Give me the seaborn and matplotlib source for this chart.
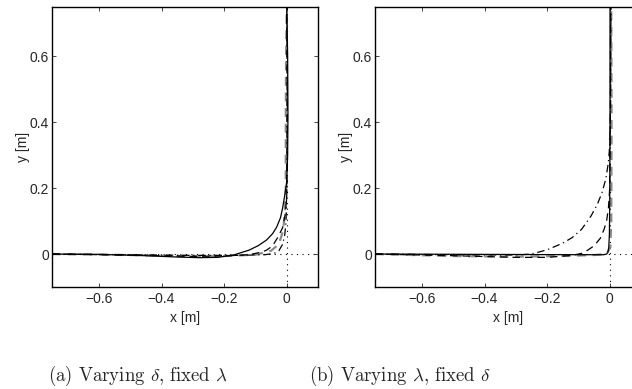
import matplotlib
matplotlib.use("Agg")
import matplotlib.pyplot as plt
import seaborn as sns
import numpy as np
import pandas as pd

# ---------------- DATA ----------------

# panel (a): varying delta, fixed lambda
a_solid_x = [-0.75, -0.6, -0.45, -0.35, -0.28, -0.22, -0.17, -0.12, -0.09, -0.064, -0.045,
             -0.032, -0.02, -0.013, -0.006, 0.0, 0.003, 0.004, 0.003, 0.0]
a_solid_y = [0.0, -0.001, -0.005, -0.009, -0.011, -0.01, -0.003, 0.012, 0.026, 0.043, 0.062,
             0.082, 0.11, 0.14, 0.18, 0.22, 0.3, 0.42, 0.6, 0.75]

a_dash_x = [-0.75, -0.5, -0.3, -0.2, -0.12, -0.08, -0.064, -0.045, -0.029, -0.013, -0.005,
            0.0, 0.002, 0.002, 0.0]
a_dash_y = [0.0, -0.003, -0.007, -0.006, -0.002, 0.006, 0.012, 0.025, 0.05, 0.08, 0.12,
            0.17, 0.3, 0.5, 0.75]

a_dashdot_x = [-0.75, -0.5, -0.3, -0.15, -0.07, -0.04, -0.025, -0.013, -0.006, -0.002,
               0.0, 0.001, 0.0]
a_dashdot_y = [0.0, -0.002, -0.004, -0.004, -0.002, 0.002, 0.01, 0.03, 0.06, 0.1,
               0.2, 0.5, 0.75]

a_gray_x = [-0.75, -0.5, -0.35, -0.2, -0.1, -0.05, -0.025, -0.012, -0.006, -0.003,
            -0.003, -0.002, 0.0]
a_gray_y = [0.0, -0.003, -0.006, -0.006, -0.002, 0.01, 0.03, 0.07, 0.12, 0.2,
            0.4, 0.6, 0.75]

# panel (b): varying lambda, fixed delta
b_solid_x = [-0.75, -0.4, -0.1, -0.02, -0.01, -0.006, -0.003, -0.001, 0.0, 0.001, 0.001]
b_solid_y = [0.0, -0.001, -0.002, -0.002, 0.0, 0.005, 0.02, 0.06, 0.15, 0.4, 0.75]

b_dash_x = [-0.75, -0.5, -0.3, -0.2, -0.12, -0.09, -0.07, -0.05, -0.03, -0.018, -0.01,
            -0.004, 0.0, 0.002, 0.003]
b_dash_y = [0.0, -0.005, -0.01, -0.01, -0.004, 0.002, 0.012, 0.025, 0.048, 0.075, 0.1,
            0.14, 0.2, 0.4, 0.75]

b_dashdot_x = [-0.75, -0.5, -0.3, -0.25, -0.2, -0.15, -0.12, -0.09, -0.06, -0.04, -0.025,
               -0.012, -0.004, 0.0, 0.003, 0.004]
b_dashdot_y = [0.0, -0.002, -0.003, 0.0, 0.013, 0.033, 0.05, 0.075, 0.115, 0.15, 0.185,
               0.23, 0.28, 0.33, 0.45, 0.75]

b_gray_x = [-0.75, -0.5, -0.3, -0.15, -0.05, -0.01, 0.002, 0.005, 0.006, 0.005]
b_gray_y = [0.0, -0.006, -0.008, -0.006, -0.003, 0.0, 0.02, 0.1, 0.4, 0.75]

x_ticks = [-0.6, -0.4, -0.2, 0]
y_ticks = [0, 0.2, 0.4, 0.6]
x_ticklabels = ["\u22120.6", "\u22120.4", "\u22120.2", "0"]
y_ticklabels = ["0", "0.2", "0.4", "0.6"]
captions = [r"(a) Varying $\delta$, fixed $\lambda$", r"(b) Varying $\lambda$, fixed $\delta$"]

# ---------------- STYLE ----------------

sns.set_style("ticks")
plt.rcParams["font.family"] = ["Liberation Sans", "DejaVu Sans"]
plt.rcParams["mathtext.fontset"] = "cm"

fig = plt.figure(figsize=(6.32, 3.89), dpi=100)
ax_a = fig.add_axes([52 / 632, 1 - 287 / 389, 266 / 632, 280 / 389])
ax_b = fig.add_axes([375 / 632, 1 - 287 / 389, 266 / 632, 280 / 389])

panels = [
    (ax_a, [(a_solid_x, a_solid_y), (a_dash_x, a_dash_y), (a_dashdot_x, a_dashdot_y), (a_gray_x, a_gray_y)]),
    (ax_b, [(b_solid_x, b_solid_y), (b_dash_x, b_dash_y), (b_dashdot_x, b_dashdot_y), (b_gray_x, b_gray_y)]),
]

styles = [
    dict(color="black", linestyle="-", linewidth=0.9),
    dict(color="black", linestyle=(0, (6, 4)), linewidth=0.9),
    dict(color="black", linestyle=(0, (6, 3, 1, 3)), linewidth=0.9),
    dict(color="#8a8a8a", linestyle=(0, (4, 3)), linewidth=1.6),
]

for ax, curves in panels:
    # reference path (dotted)
    ax.axhline(0, color="black", linestyle=(0, (1, 4)), linewidth=0.8, zorder=1)
    ax.axvline(0, color="black", linestyle=(0, (1, 4)), linewidth=0.8, zorder=1)

    for (cx, cy), st in zip(curves[::-1], styles[::-1]):
        df = pd.DataFrame({"x": cx, "y": cy})
        sns.lineplot(data=df, x="x", y="y", ax=ax, sort=False, estimator=None, **st)

    ax.set_xlim(-0.75, 0.1)
    ax.set_ylim(-0.1, 0.75)
    ax.set_xticks(x_ticks)
    ax.set_yticks(y_ticks)
    ax.set_xticklabels(x_ticklabels)
    ax.set_yticklabels(y_ticklabels)
    ax.tick_params(direction="in", top=True, right=True, length=3, labelsize=10, width=0.6)
    ax.tick_params(axis="y", pad=2)
    ax.set_xlabel("x [m]", fontsize=10)
    ax.set_ylabel("y [m]", fontsize=10)
    ax.xaxis.set_label_coords(0.5, -0.086)
    ax.yaxis.set_label_coords(-0.083, 0.5)
    for sp in ax.spines.values():
        sp.set_linewidth(1.0)
        sp.set_color("black")

fig.text(138 / 632, 1 - 376 / 389, captions[0], ha="center", va="center",
         fontsize=13.5, family=["cmr10"])
fig.text(400 / 632, 1 - 376 / 389, captions[1], ha="center", va="center",
         fontsize=13.5, family=["cmr10"])

fig.savefig("out.png", dpi=100)
